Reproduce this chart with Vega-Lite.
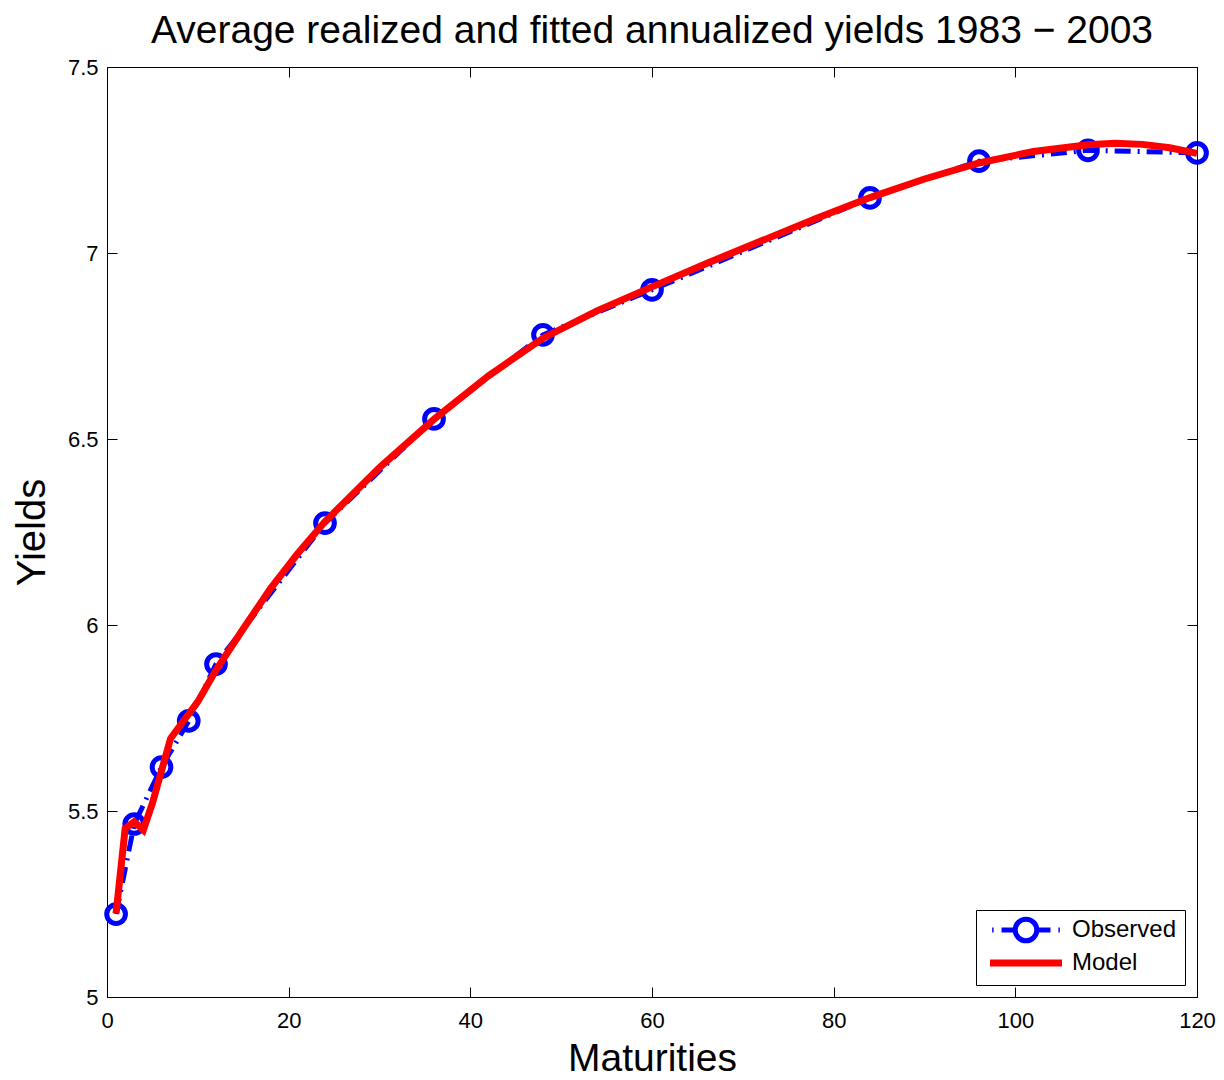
{
  "$schema": "https://vega.github.io/schema/vega-lite/v6.json",
  "autosize": "none",
  "width": 1090,
  "height": 930,
  "padding": {"left": 107, "top": 67, "right": 27, "bottom": 83},
  "background": "white",
  "title": {
    "text": "Average realized and fitted annualized yields 1983 − 2003",
    "font": "Liberation Sans",
    "fontSize": 39,
    "fontWeight": "normal",
    "color": "black",
    "anchor": "middle",
    "frame": "group",
    "baseline": "alphabetic",
    "offset": -26
  },
  "config": {
    "view": {"stroke": null},
    "axis": {
      "grid": false,
      "domainColor": "black",
      "domainWidth": 1,
      "tickColor": "black",
      "tickSize": -10,
      "tickWidth": 1,
      "labelFlush": false,
      "labelFont": "Liberation Sans",
      "labelFontSize": 22,
      "labelColor": "black",
      "titleFont": "Liberation Sans",
      "titleFontSize": 39,
      "titleFontWeight": "normal",
      "titleColor": "black"
    }
  },
  "datasets": {
    "obs": [
      {"m": 1, "y": 5.223, "series": "Observed"},
      {"m": 3, "y": 5.465, "series": "Observed"},
      {"m": 6, "y": 5.618, "series": "Observed"},
      {"m": 9, "y": 5.742, "series": "Observed"},
      {"m": 12, "y": 5.895, "series": "Observed"},
      {"m": 24, "y": 6.274, "series": "Observed"},
      {"m": 36, "y": 6.554, "series": "Observed"},
      {"m": 48, "y": 6.78, "series": "Observed"},
      {"m": 60, "y": 6.901, "series": "Observed"},
      {"m": 84, "y": 7.148, "series": "Observed"},
      {"m": 96, "y": 7.247, "series": "Observed"},
      {"m": 108, "y": 7.276, "series": "Observed"},
      {"m": 120, "y": 7.269, "series": "Observed"}
    ],
    "model": [
      {"m": 1, "y": 5.225, "series": "Model"},
      {"m": 2, "y": 5.453, "series": "Model"},
      {"m": 3, "y": 5.471, "series": "Model"},
      {"m": 4, "y": 5.449, "series": "Model"},
      {"m": 5, "y": 5.521, "series": "Model"},
      {"m": 7, "y": 5.695, "series": "Model"},
      {"m": 10, "y": 5.794, "series": "Model"},
      {"m": 12, "y": 5.879, "series": "Model"},
      {"m": 15, "y": 5.99, "series": "Model"},
      {"m": 18, "y": 6.098, "series": "Model"},
      {"m": 21, "y": 6.192, "series": "Model"},
      {"m": 24, "y": 6.278, "series": "Model"},
      {"m": 30, "y": 6.423, "series": "Model"},
      {"m": 36, "y": 6.553, "series": "Model"},
      {"m": 42, "y": 6.67, "series": "Model"},
      {"m": 48, "y": 6.771, "series": "Model"},
      {"m": 54, "y": 6.845, "series": "Model"},
      {"m": 60, "y": 6.909, "series": "Model"},
      {"m": 66, "y": 6.972, "series": "Model"},
      {"m": 72, "y": 7.032, "series": "Model"},
      {"m": 78, "y": 7.092, "series": "Model"},
      {"m": 84, "y": 7.149, "series": "Model"},
      {"m": 90, "y": 7.199, "series": "Model"},
      {"m": 96, "y": 7.242, "series": "Model"},
      {"m": 102, "y": 7.273, "series": "Model"},
      {"m": 108, "y": 7.291, "series": "Model"},
      {"m": 111, "y": 7.295, "series": "Model"},
      {"m": 114, "y": 7.292, "series": "Model"},
      {"m": 117, "y": 7.283, "series": "Model"},
      {"m": 120, "y": 7.268, "series": "Model"}
    ]
  },
  "resolve": {"axis": {"x": "independent", "y": "independent"}},
  "layer": [
    {
      "data": {"name": "obs"},
      "mark": {"type": "line", "strokeWidth": 5, "strokeDash": [16, 7, 2, 7], "clip": false},
      "encoding": {
        "x": {"field": "m", "type": "quantitative", "scale": {"domain": [0, 120], "nice": false, "zero": false},
          "axis": {"values": [0, 20, 40, 60, 80, 100, 120], "title": "Maturities", "labelPadding": 23, "titlePadding": 8}},
        "y": {"field": "y", "type": "quantitative", "scale": {"domain": [5, 7.5], "nice": false, "zero": false},
          "axis": {"values": [5, 5.5, 6, 6.5, 7, 7.5], "format": "~g", "title": "Yields", "labelPadding": 19, "titlePadding": 15, "titleFontSize": 40}},
        "color": {"field": "series", "type": "nominal",
          "scale": {"domain": ["Observed", "Model"], "range": ["#0000ff", "#ff0000"]},
          "legend": {
            "title": null,
            "orient": "bottom-right",
            "offset": 12,
            "fillColor": "white",
            "strokeColor": "black",
            "padding": 8,
            "symbolType": "stroke",
            "symbolSize": 5184,
            "symbolStrokeWidth": 5,
            "symbolOffset": 30,
            "labelFont": "Liberation Sans",
            "labelFontSize": 24,
            "labelColor": "black",
            "labelOffset": 34,
            "rowPadding": -3,
            "encode": {
              "symbols": {
                "update": {
                  "shape": {"signal": "datum.value === 'Observed' ? 'M-0.94,0H-0.9M-0.68,0H-0.3M0.3,0H0.68M0.9,0H0.94M0.3,0A0.3,0.3 0 1,1 -0.3,0A0.3,0.3 0 1,1 0.3,0' : 'M-1,0H1'"},
                  "strokeWidth": {"signal": "datum.value === 'Observed' ? 5 : 7"},
                  "strokeDash": {"value": []},
                  "fill": {"value": "transparent"}
                }
              }
            }
          }
        }
      }
    },
    {
      "data": {"name": "obs"},
      "mark": {"type": "point", "shape": "circle", "filled": false, "size": 350, "strokeWidth": 5, "color": "#0000ff", "opacity": 1, "clip": false},
      "encoding": {
        "x": {"field": "m", "type": "quantitative", "axis": null},
        "y": {"field": "y", "type": "quantitative", "axis": null}
      }
    },
    {
      "data": {"name": "model"},
      "mark": {"type": "line", "strokeWidth": 7, "clip": false},
      "encoding": {
        "x": {"field": "m", "type": "quantitative", "axis": null},
        "y": {"field": "y", "type": "quantitative", "axis": null},
        "color": {"field": "series", "type": "nominal"}
      }
    },
    {
      "data": {"name": "obs"},
      "mark": {"type": "point", "opacity": 0},
      "encoding": {
        "x": {"field": "m", "type": "quantitative",
          "axis": {"orient": "top", "values": [0, 20, 40, 60, 80, 100, 120], "labels": false, "title": null}},
        "y": {"field": "y", "type": "quantitative",
          "axis": {"orient": "right", "values": [5, 5.5, 6, 6.5, 7, 7.5], "labels": false, "title": null}}
      }
    }
  ]
}
